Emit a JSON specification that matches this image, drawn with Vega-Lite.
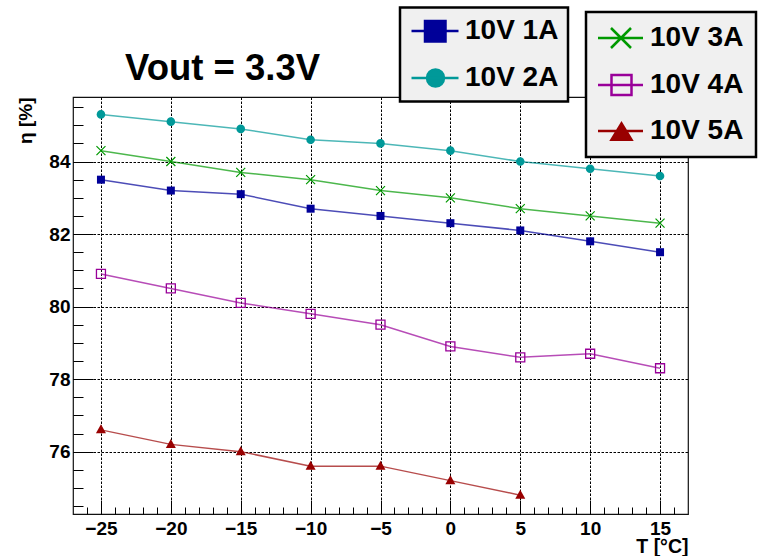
{
  "$schema": "https://vega.github.io/schema/vega-lite/v6.json",
  "width": 615,
  "height": 417,
  "autosize": {"type": "none"},
  "padding": {"left": 73, "top": 97, "right": 77, "bottom": 42},
  "background": "white",
  "config": {
    "view": {"stroke": "#111", "strokeWidth": 1.2},
    "font": "Liberation Sans",
    "legend": {"strokeWidth": 2.5}
  },
  "title": {
    "text": "Vout = 3.3V",
    "anchor": "start",
    "frame": "group",
    "dx": 52,
    "font": "Liberation Sans",
    "fontSize": 36.5,
    "fontWeight": "bold",
    "color": "black",
    "baseline": "alphabetic",
    "offset": -110
  },
  "data": {
    "values": [
      {"T": -25, "eta": 83.5, "s": "10V 1A"},
      {"T": -20, "eta": 83.2, "s": "10V 1A"},
      {"T": -15, "eta": 83.1, "s": "10V 1A"},
      {"T": -10, "eta": 82.7, "s": "10V 1A"},
      {"T": -5, "eta": 82.5, "s": "10V 1A"},
      {"T": 0, "eta": 82.3, "s": "10V 1A"},
      {"T": 5, "eta": 82.1, "s": "10V 1A"},
      {"T": 10, "eta": 81.8, "s": "10V 1A"},
      {"T": 15, "eta": 81.5, "s": "10V 1A"},
      {"T": -25, "eta": 85.3, "s": "10V 2A"},
      {"T": -20, "eta": 85.1, "s": "10V 2A"},
      {"T": -15, "eta": 84.9, "s": "10V 2A"},
      {"T": -10, "eta": 84.6, "s": "10V 2A"},
      {"T": -5, "eta": 84.5, "s": "10V 2A"},
      {"T": 0, "eta": 84.3, "s": "10V 2A"},
      {"T": 5, "eta": 84.0, "s": "10V 2A"},
      {"T": 10, "eta": 83.8, "s": "10V 2A"},
      {"T": 15, "eta": 83.6, "s": "10V 2A"},
      {"T": -25, "eta": 84.3, "s": "10V 3A"},
      {"T": -20, "eta": 84.0, "s": "10V 3A"},
      {"T": -15, "eta": 83.7, "s": "10V 3A"},
      {"T": -10, "eta": 83.5, "s": "10V 3A"},
      {"T": -5, "eta": 83.2, "s": "10V 3A"},
      {"T": 0, "eta": 83.0, "s": "10V 3A"},
      {"T": 5, "eta": 82.7, "s": "10V 3A"},
      {"T": 10, "eta": 82.5, "s": "10V 3A"},
      {"T": 15, "eta": 82.3, "s": "10V 3A"},
      {"T": -25, "eta": 80.9, "s": "10V 4A"},
      {"T": -20, "eta": 80.5, "s": "10V 4A"},
      {"T": -15, "eta": 80.1, "s": "10V 4A"},
      {"T": -10, "eta": 79.8, "s": "10V 4A"},
      {"T": -5, "eta": 79.5, "s": "10V 4A"},
      {"T": 0, "eta": 78.9, "s": "10V 4A"},
      {"T": 5, "eta": 78.6, "s": "10V 4A"},
      {"T": 10, "eta": 78.7, "s": "10V 4A"},
      {"T": 15, "eta": 78.3, "s": "10V 4A"},
      {"T": -25, "eta": 76.6, "s": "10V 5A"},
      {"T": -20, "eta": 76.2, "s": "10V 5A"},
      {"T": -15, "eta": 76.0, "s": "10V 5A"},
      {"T": -10, "eta": 75.6, "s": "10V 5A"},
      {"T": -5, "eta": 75.6, "s": "10V 5A"},
      {"T": 0, "eta": 75.2, "s": "10V 5A"},
      {"T": 5, "eta": 74.8, "s": "10V 5A"}
    ]
  },
  "encoding": {
    "x": {"field": "T", "type": "quantitative", "scale": {"domain": [-27, 17], "nice": false, "zero": false}, "axis": null},
    "y": {"field": "eta", "type": "quantitative", "scale": {"domain": [74.28, 85.78], "nice": false, "zero": false}, "axis": null}
  },
  "layer": [
    {
      "transform": [{"filter": {"field": "s", "oneOf": ["10V 1A", "10V 2A"]}}],
      "mark": {"type": "line", "strokeWidth": 1.5, "strokeOpacity": 0.7},
      "encoding": {
        "color": {
          "field": "s",
          "type": "nominal",
          "scale": {"domain": ["10V 1A", "10V 2A"], "range": ["#000099", "#009999"]},
          "legend": null
        },
        "x": {
          "field": "T",
          "type": "quantitative",
          "scale": {"domain": [-27, 17], "nice": false, "zero": false},
          "axis": {
            "orient": "bottom",
            "values": [-25, -20, -15, -10, -5, 0, 5, 10, 15],
            "domain": false,
            "tickSize": -14,
            "tickColor": "black",
            "tickWidth": 1,
            "labelFont": "Liberation Sans",
            "labelFontSize": 19,
            "labelFontWeight": "bold",
            "labelColor": "black",
            "labelPadding": 19,
            "labelFlush": false,
            "labelOverlap": false,
            "grid": true,
            "gridColor": "black",
            "gridDash": [2.5, 1.5],
            "gridWidth": 1,
            "title": "T [°C]",
            "titleFont": "Liberation Sans",
            "titleFontSize": 19.5,
            "titleFontWeight": "bold",
            "titleColor": "black",
            "titleAlign": "right",
            "titleBaseline": "alphabetic",
            "titleX": 615,
            "titleY": 38.5
          }
        },
        "y": {
          "field": "eta",
          "type": "quantitative",
          "scale": {"domain": [74.28, 85.78], "nice": false, "zero": false},
          "axis": {
            "orient": "left",
            "values": [76, 78, 80, 82, 84],
            "domain": false,
            "tickSize": -20,
            "tickColor": "black",
            "tickWidth": 1,
            "labelFont": "Liberation Sans",
            "labelFontSize": 19,
            "labelFontWeight": "bold",
            "labelColor": "black",
            "labelPadding": 23,
            "labelFlush": false,
            "labelOverlap": false,
            "grid": true,
            "gridColor": "black",
            "gridDash": [2.5, 1.5],
            "gridWidth": 1,
            "title": "η [%]",
            "titleFont": "Liberation Sans",
            "titleFontSize": 19,
            "titleFontWeight": "bold",
            "titleColor": "black",
            "titleAngle": 270,
            "titleAlign": "right",
            "titleBaseline": "alphabetic",
            "titleX": -42,
            "titleY": 0
          }
        }
      }
    },
    {
      "transform": [{"filter": {"field": "s", "oneOf": ["10V 3A", "10V 4A", "10V 5A"]}}],
      "mark": {"type": "line", "strokeWidth": 1.5, "strokeOpacity": 0.7},
      "encoding": {
        "color": {
          "field": "s",
          "type": "nominal",
          "scale": {"domain": ["10V 3A", "10V 4A", "10V 5A"], "range": ["#009900", "#990099", "#990000"]},
          "legend": null
        },
        "x": {
          "field": "T",
          "type": "quantitative",
          "scale": {"domain": [-27, 17], "nice": false, "zero": false},
          "axis": {
            "orient": "bottom",
            "values": [-26, -25, -24, -23, -22, -21, -20, -19, -18, -17, -16, -15, -14, -13, -12, -11, -10, -9, -8, -7, -6, -5, -4, -3, -2, -1, 0, 1, 2, 3, 4, 5, 6, 7, 8, 9, 10, 11, 12, 13, 14, 15, 16],
            "domain": false,
            "labels": false,
            "grid": false,
            "tickSize": -7,
            "tickColor": "black",
            "tickWidth": 1,
            "title": null
          }
        },
        "y": {
          "field": "eta",
          "type": "quantitative",
          "scale": {"domain": [74.28, 85.78], "nice": false, "zero": false},
          "axis": {
            "orient": "left",
            "values": [74.5, 75, 75.5, 76, 76.5, 77, 77.5, 78, 78.5, 79, 79.5, 80, 80.5, 81, 81.5, 82, 82.5, 83, 83.5, 84, 84.5, 85, 85.5],
            "domain": false,
            "labels": false,
            "grid": false,
            "tickSize": -10,
            "tickColor": "black",
            "tickWidth": 1,
            "title": null
          }
        }
      }
    },
    {
      "transform": [{"filter": {"field": "s", "equal": "10V 1A"}}],
      "mark": {"type": "point", "shape": "M-4,-4H4V4H-4Z", "filled": true, "size": 4, "opacity": 1},
      "encoding": {
        "color": {"field": "s", "type": "nominal", "scale": {"domain": ["10V 1A", "10V 2A"], "range": ["#000099", "#009999"]}, "legend": null}
      }
    },
    {
      "transform": [{"filter": {"field": "s", "equal": "10V 2A"}}],
      "mark": {"type": "point", "shape": "M4.3,0A4.3,4.3,0,1,1,-4.3,0A4.3,4.3,0,1,1,4.3,0Z", "filled": true, "size": 4, "opacity": 1},
      "encoding": {
        "color": {"field": "s", "type": "nominal", "scale": {"domain": ["10V 1A", "10V 2A"], "range": ["#000099", "#009999"]}, "legend": null}
      }
    },
    {
      "transform": [{"filter": {"field": "s", "equal": "10V 3A"}}],
      "mark": {"type": "point", "shape": "M-4.5,-4.5L4.5,4.5M-4.5,4.5L4.5,-4.5", "filled": false, "size": 4, "strokeWidth": 1.2, "opacity": 1},
      "encoding": {
        "color": {"field": "s", "type": "nominal", "scale": {"domain": ["10V 3A", "10V 4A", "10V 5A"], "range": ["#009900", "#990099", "#990000"]}, "legend": null}
      }
    },
    {
      "transform": [{"filter": {"field": "s", "equal": "10V 4A"}}],
      "mark": {"type": "point", "shape": "M-4.5,-4.5H4.5V4.5H-4.5Z", "filled": false, "size": 4, "strokeWidth": 1.3, "opacity": 1},
      "encoding": {
        "color": {"field": "s", "type": "nominal", "scale": {"domain": ["10V 3A", "10V 4A", "10V 5A"], "range": ["#009900", "#990099", "#990000"]}, "legend": null}
      }
    },
    {
      "transform": [{"filter": {"field": "s", "equal": "10V 5A"}}],
      "mark": {"type": "point", "shape": "M0,-5.5L5,3.5H-5Z", "filled": true, "size": 4, "opacity": 1},
      "encoding": {
        "color": {"field": "s", "type": "nominal", "scale": {"domain": ["10V 3A", "10V 4A", "10V 5A"], "range": ["#009900", "#990099", "#990000"]}, "legend": null}
      }
    },
    {
      "description": "Legend box for 1A/2A: draws no points itself, only carries the line-and-marker legend symbols.",
      "transform": [{"filter": "datum.T > 1000"}],
      "mark": {"type": "point", "filled": false, "size": 4, "strokeWidth": 2.5},
      "encoding": {
        "color": {
          "field": "s",
          "type": "nominal",
          "scale": {"domain": ["10V 1A", "10V 2A"], "range": ["#000099", "#009999"]},
          "legend": {
            "orient": "none",
            "legendX": 327,
            "legendY": -89.5,
            "title": null,
            "padding": 9.5,
            "rowPadding": 17,
            "labelFont": "Liberation Sans",
            "labelFontSize": 28,
            "labelFontWeight": "bold",
            "labelColor": "black",
            "labelOffset": 27.5,
            "labelExpr": "datum.label + '\u00a0\u00a0\u00a0'",
            "fillColor": "#f0f0f0",
            "strokeColor": "black",
            "symbolSize": 4,
            "symbolStrokeWidth": 2.5,
            "symbolOpacity": 1
          }
        },
        "fill": {
          "field": "s",
          "type": "nominal",
          "scale": {"domain": ["10V 1A", "10V 2A"], "range": ["#000099", "#009999"]},
          "legend": null
        },
        "shape": {
          "field": "s",
          "type": "nominal",
          "scale": {"domain": ["10V 1A", "10V 2A"], "range": ["M-12,0H35M1.5,-10H22V10.5H1.5Z", "M-12,0H35M20.5,0A8.5,8.5,0,1,1,3.5,0A8.5,8.5,0,1,1,20.5,0Z"]},
          "legend": null
        }
      }
    },
    {
      "description": "Legend box for 3A/4A/5A: draws no points itself, only carries the line-and-marker legend symbols.",
      "transform": [{"filter": "datum.T > 1000"}],
      "mark": {"type": "point", "filled": false, "size": 4, "strokeWidth": 2.5},
      "encoding": {
        "color": {
          "field": "s",
          "type": "nominal",
          "scale": {"domain": ["10V 3A", "10V 4A", "10V 5A"], "range": ["#009900", "#990099", "#990000"]},
          "legend": {
            "orient": "none",
            "legendX": 513,
            "legendY": -85,
            "title": null,
            "padding": 12,
            "rowPadding": 17,
            "labelFont": "Liberation Sans",
            "labelFontSize": 28,
            "labelFontWeight": "bold",
            "labelColor": "black",
            "labelOffset": 24,
            "labelExpr": "datum.label + '\u00a0\u00a0'",
            "fillColor": "#f0f0f0",
            "strokeColor": "black",
            "symbolSize": 4,
            "symbolStrokeWidth": 2.5,
            "symbolOpacity": 1
          }
        },
        "fill": {
          "field": "s",
          "type": "nominal",
          "scale": {"domain": ["10V 3A", "10V 4A", "10V 5A"], "range": ["transparent", "transparent", "#990000"]},
          "legend": null
        },
        "shape": {
          "field": "s",
          "type": "nominal",
          "scale": {"domain": ["10V 3A", "10V 4A", "10V 5A"], "range": ["M-14,0H31M-1,-10L19,10M-1,10L19,-10", "M-14,0H31M-0.5,-10H19.5V10H-0.5Z", "M-14,0H31M9.5,-7.5L19.5,8.8H-0.5Z"]},
          "legend": null
        }
      }
    }
  ],
  "resolve": {
    "scale": {"color": "independent", "fill": "independent", "shape": "independent"},
    "axis": {"x": "independent", "y": "independent"}
  }
}
